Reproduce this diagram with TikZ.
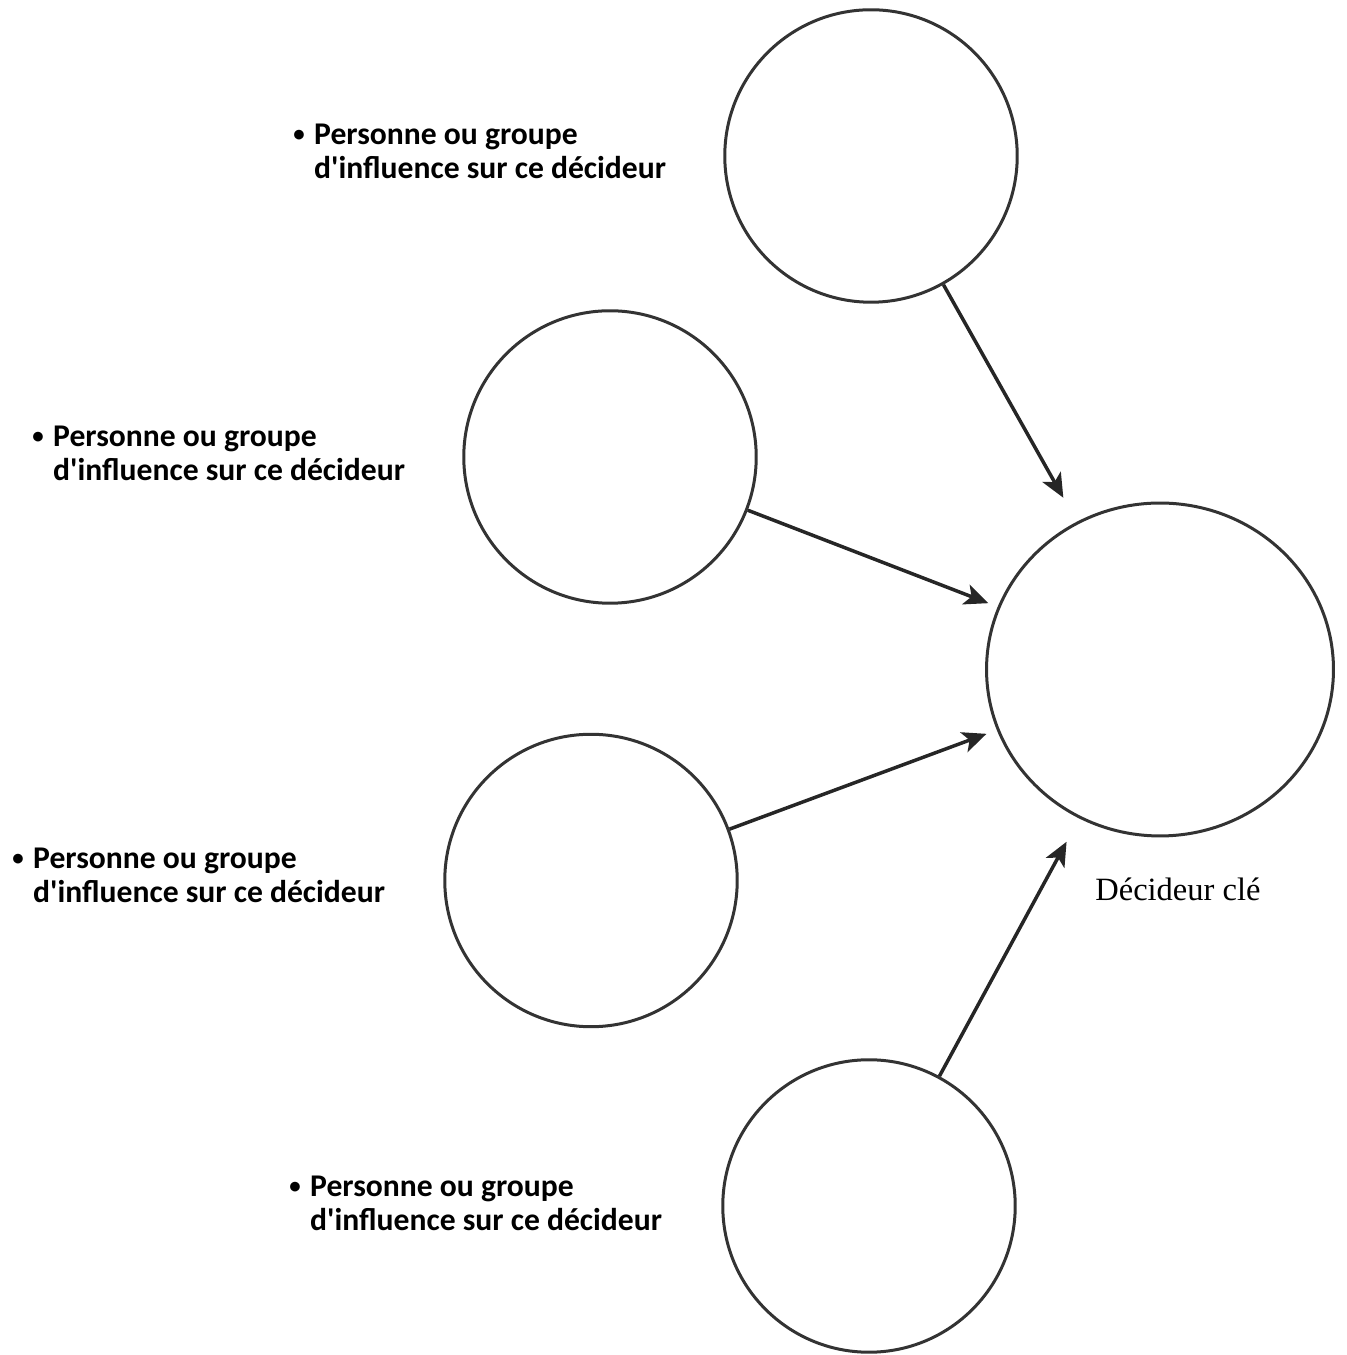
\documentclass[tikz,border=0pt]{standalone}
\usepackage{fontspec}
\setmainfont{Liberation Serif}
\newfontfamily\labelfont{Carlito}
\usetikzlibrary{arrows.meta,shapes.geometric}

% text beside each small circle
\newcommand{\influencetext}{%
  {\labelfont\bfseries\fontsize{18}{18.8}\selectfont
   \begin{tabular}[t]{@{}l@{\hspace{0.19cm}}l@{}}
   \raisebox{0.12em}{\fontsize{13}{13}\selectfont\textbullet} & Personne ou groupe\\
               & d'influence sur ce d\'ecideur
   \end{tabular}}}

\tikzset{
  influence/.style={draw=black!80, circle, line width=0.06cm, minimum size=5.85cm, inner sep=0pt},
  decider/.style={draw=black!80, ellipse, line width=0.06cm, minimum width=6.94cm, minimum height=6.66cm, inner sep=0pt},
  infarrow/.style={draw=black!85, line width=0.07cm, -{Stealth[length=0.48cm, width=0.42cm, inset=0.12cm]}},
  infotext/.style={anchor=base west, inner sep=0pt}
}

\begin{document}
\begin{tikzpicture}[x=0.02cm, y=0.02cm]
\useasboundingbox (0,0) rectangle (1346,1355);

% Drawing circle of the key decision maker
\node [decider] (cle) at (1160,685.5) {};
\node [infotext] (clelabel) at (1095,454) {\fontsize{18.5}{22}\selectfont D\'ecideur cl\'e};

% Drawing circles of influence
\node [influence] (haut) at (871,1199) {};
\node [influence] (milhaut) at (610,898) {};
\node [influence] (milbas) at (591,474.5) {};
\node [influence] (bas) at (869,149) {};

% Marking texts of influence
\node [infotext] (txthaut) at (293,1210) {\influencetext};
\node [infotext] (txtmilhaut) at (32,908) {\influencetext};
\node [infotext] (txtmilbas) at (12,486) {\influencetext};
\node [infotext] (txtbas) at (289,158) {\influencetext};

% Drawing arrows towards the decision maker
\draw [infarrow, shorten >=0.55cm] (haut) -- (cle);
\draw [infarrow, shorten >=0.2cm] (milhaut) -- (cle);
\draw [infarrow, shorten >=0.22cm] (milbas) -- (cle);
\draw [infarrow, shorten >=0.53cm] (bas) -- (cle);
\end{tikzpicture}
\end{document}
